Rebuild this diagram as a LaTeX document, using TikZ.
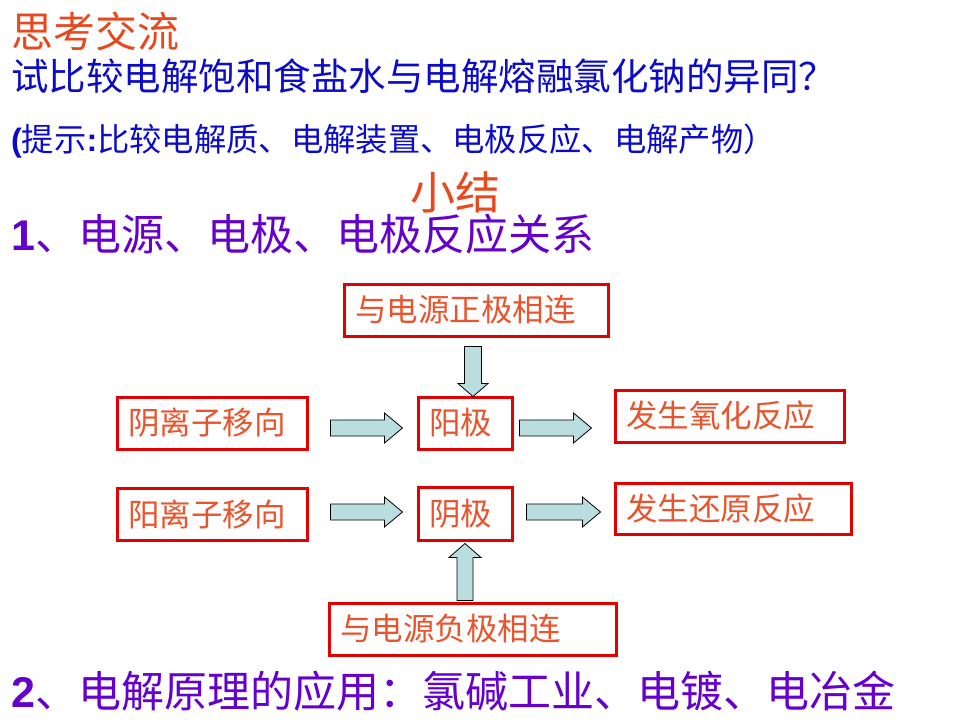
\documentclass[tikz,border=0pt]{standalone}
\usepackage{fontspec}
\setmainfont{Noto Sans CJK SC}
\newfontfamily\latb{Liberation Sans}
\usetikzlibrary{calc}
\definecolor{titlered}{RGB}{232,72,30}
\definecolor{boxtext}{RGB}{232,84,44}
\definecolor{boxred}{RGB}{226,0,0}
\definecolor{hintblue}{RGB}{12,12,200}
\definecolor{sumpurple}{RGB}{102,0,204}
\definecolor{arrowfill}{RGB}{186,222,224}
\tikzset{
  redbox/.style={draw=boxred, line width=3pt, inner xsep=11pt, inner ysep=0pt,
    text=boxtext, font=\fontsize{31.5}{34}\selectfont, align=left, minimum height=52pt},
  arrowbody/.style={draw=black, line width=0.8pt, fill=arrowfill, line join=miter},
  textline/.style={anchor=base west, inner sep=0pt},
}
% block arrow: tail, tip, shaft half width, head half width, head length
\newcommand\blockarr[5]{%
  \path (#1) coordinate (bt) (#2) coordinate (bp);
  \path ($(bp)!#5!(bt)$) coordinate (bh);
  \draw[arrowbody] ($(bt)!#3!90:(bp)$) -- ($(bh)!#3!-90:(bt)$) -- ($(bh)!#4!-90:(bt)$)
    -- (bp) -- ($(bh)!#4!90:(bt)$) -- ($(bh)!#3!90:(bt)$) -- ($(bt)!#3!-90:(bp)$) -- cycle;}
\begin{document}
\begin{tikzpicture}[x=1pt,y=-1pt]
\useasboundingbox[fill=white] (0,0) rectangle (960,720);

% text lines
\node[textline, text=titlered, font=\fontsize{42}{45}\selectfont] (t1) at (11,47) {思考交流};
\node[textline, text=hintblue, font=\fontsize{37.5}{40}\selectfont] (t2) at (11,90) {试比较电解饱和食盐水与电解熔融氯化钠的异同？};
\node[textline, text=hintblue, font=\fontsize{32.3}{36}\selectfont] (t3) at (11,151) {{\latb\bfseries(}提示{\latb\bfseries:}比较电解质、电解装置、电极反应、电解产物）};
\node[anchor=base, inner sep=0pt, text=titlered, font=\fontsize{45}{48}\selectfont] (t4) at (455,209) {小结};
\node[textline, text=sumpurple, font=\fontsize{43}{46}\selectfont] (t5) at (11,250) {{\latb\bfseries 1}、电源、电极、电极反应关系};
\node[textline, text=sumpurple, font=\fontsize{43}{46}\selectfont] (t6) at (11,707) {{\latb\bfseries 2}、电解原理的应用：氯碱工业、电镀、电冶金};

% boxes
\node[redbox, text width=242pt] (pos) at (476,310) {与电源正极相连};
\node[redbox, text width=168pt] (an1) at (212,423) {阴离子移向};
\node[redbox, text width=72pt] (yang) at (465,423) {阳极};
\node[redbox, text width=207pt] (ox) at (729.5,416) {发生氧化反应};
\node[redbox, text width=168pt] (cat) at (212,514) {阳离子移向};
\node[redbox, text width=72pt, minimum height=53pt] (yin) at (465,513.5) {阴极};
\node[redbox, text width=214pt, minimum height=51pt] (red) at (733,508.5) {发生还原反应};
\node[redbox, text width=265pt] (neg) at (472.5,629) {与电源负极相连};

% block arrows
\blockarr{$(an1.east)+(22,5)$}{$(yang.west)+(-14,5)$}{8pt}{15pt}{18pt}
\blockarr{$(yang.east)+(6,5)$}{$(ox.west)+(-22,12)$}{8pt}{15pt}{18pt}
\blockarr{$(cat.east)+(22,-2)$}{$(yin.west)+(-14,-1.5)$}{8pt}{15pt}{18pt}
\blockarr{$(yin.east)+(13,-1.5)$}{$(red.west)+(-13,3.5)$}{8pt}{15pt}{18pt}
\blockarr{$(pos.south)+(-3,9)$}{$(yang.north)+(8,1)$}{8.5pt}{15pt}{13pt}
\blockarr{$(neg.north)+(-7.5,-1)$}{$(yin.south)+(0,2)$}{8pt}{16pt}{14pt}
\end{tikzpicture}
\end{document}
